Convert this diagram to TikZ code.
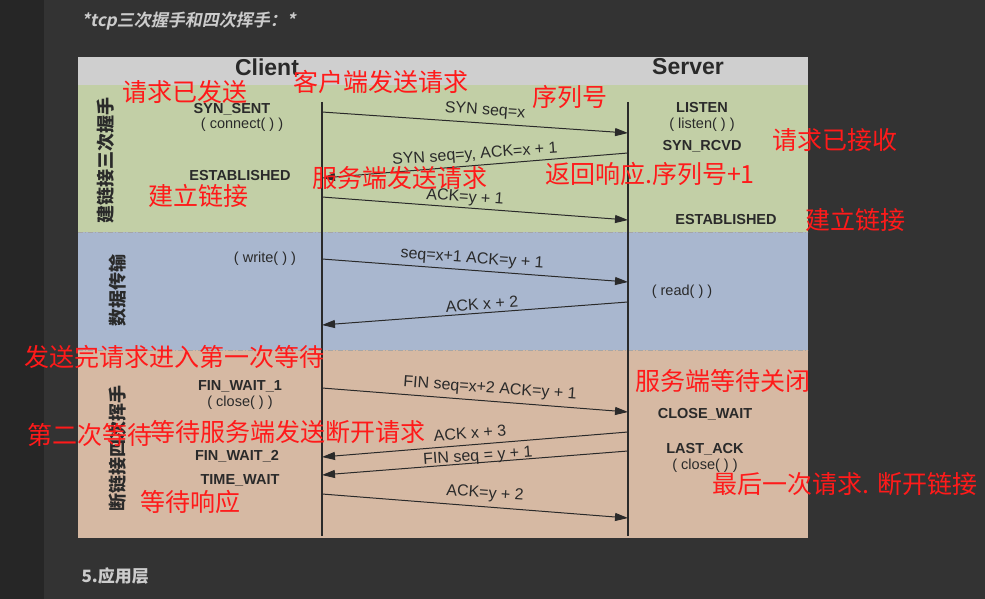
\documentclass[tikz,border=0pt]{standalone}
\usepackage{fontspec}
\setmainfont{Liberation Sans}
\newfontfamily\cjk{Noto Sans CJK SC}
\newfontfamily\cjkit[FakeSlant=0.2]{Noto Sans CJK SC Bold}
\usetikzlibrary{arrows.meta}
\definecolor{bgl}{HTML}{262626}
\definecolor{bgm}{HTML}{333333}
\definecolor{hdr}{HTML}{CFCFCF}
\definecolor{grn}{HTML}{C2CFA6}
\definecolor{blu}{HTML}{A9B7CF}
\definecolor{org}{HTML}{D6B9A3}
\definecolor{ink}{HTML}{2A2A2A}
\definecolor{ann}{HTML}{FF1A1A}
\tikzset{
 st/.style={font=\bfseries\fontsize{14.5}{15}\selectfont, text=ink, inner sep=0},
 lb/.style={font=\fontsize{14.5}{15}\selectfont, text=ink, inner sep=0},
 ml/.style={font=\fontsize{16}{17}\selectfont, text=ink, inner sep=0},
 an/.style={font=\cjk\fontsize{25}{26}\selectfont, text=ann, inner sep=0},
 sec/.style={font=\cjk\bfseries\fontsize{18}{19}\selectfont, text=ink, rotate=90, inner sep=0},
 msg/.style={draw=ink, line width=1pt, -{Triangle[length=13pt,width=8pt]}},
 dv/.style={draw=gray!70, line width=1pt, dash pattern=on 5pt off 2pt on 1pt off 2pt}
}
\begin{document}
\begin{tikzpicture}[x=1pt,y=-1pt]
\useasboundingbox (0,0) rectangle (985,599);
\fill[bgl] (0,0) rectangle (44,599);
\fill[bgm] (44,0) rectangle (985,599);
\node[anchor=west, text=gray!40!white, font=\cjkit\fontsize{17}{18}\selectfont] (title) at (78,21) {*tcp三次握手和四次挥手：*};
\node[anchor=west, text=gray!40!white, font=\cjk\bfseries\fontsize{17}{18}\selectfont] (five) at (78,576) {5.应用层};
% image
\fill[hdr] (78,57) rectangle (808,85);
\fill[grn] (78,85) rectangle (808,232);
\fill[blu] (78,232) rectangle (808,350);
\fill[org] (78,350) rectangle (808,538);
\draw[dv] (78,232) -- (808,232);
\draw[dv] (78,350) -- (808,350);
\node[font=\bfseries\fontsize{23}{24}\selectfont, text=ink, inner sep=0] (client) at (267,67) {Client};
\node[font=\bfseries\fontsize{23}{24}\selectfont, text=ink, inner sep=0] (server) at (688,67) {Server};
\coordinate (ct) at (322,102); \coordinate (cb) at (322,536);
\coordinate (stp) at (628,102); \coordinate (sb) at (628,536);
\draw[ink, line width=1.2pt] (ct) -- (cb);
\draw[ink, line width=1.2pt] (stp) -- (sb);
\node[sec] (s1) at (106,160) {建链接三次握手};
\node[sec] (s2) at (118,290) {数据传输};
\node[sec] (s3) at (118,448) {断链接四次挥手};
% client states
\node[st] (a1) at (232,109) {SYN\_SENT};
\node[lb] (a2) at (242,125) {( connect( ) )};
\node[st] (a3) at (240,176) {ESTABLISHED};
\node[lb] (a4) at (265,259) {( write( ) )};
\node[st] (a5) at (240,386) {FIN\_WAIT\_1};
\node[lb] (a6) at (240,403) {( close( ) )};
\node[st] (a7) at (237,456) {FIN\_WAIT\_2};
\node[st] (a8) at (240,480) {TIME\_WAIT};
% server states
\node[st] (b1) at (702,108) {LISTEN};
\node[lb] (b2) at (702,125) {( listen( ) )};
\node[st] (b3) at (702,146) {SYN\_RCVD};
\node[st] (b4) at (726,220) {ESTABLISHED};
\node[lb] (b5) at (682,292) {( read( ) )};
\node[st] (b6) at (705,414) {CLOSE\_WAIT};
\node[st] (b7) at (705,449) {LAST\_ACK};
\node[lb] (b8) at (705,466) {( close( ) )};
% messages
\coordinate (m1a) at (322,112); \coordinate (m1b) at (628,133);
\coordinate (m2a) at (628,153); \coordinate (m2b) at (322,178);
\coordinate (m3a) at (322,197); \coordinate (m3b) at (628,220);
\coordinate (m4a) at (322,259); \coordinate (m4b) at (628,282);
\coordinate (m5a) at (628,302); \coordinate (m5b) at (322,325);
\coordinate (m6a) at (322,388); \coordinate (m6b) at (628,412);
\coordinate (m7a) at (628,432); \coordinate (m7b) at (322,457);
\coordinate (m8a) at (628,451); \coordinate (m8b) at (322,475);
\coordinate (m9a) at (322,494); \coordinate (m9b) at (628,518);
\foreach \i in {1,...,9} \draw[msg] (m\i a) -- (m\i b);
\node[ml, rotate=-4] (l1) at (485,111) {SYN seq=x};
\node[ml, rotate=4] (l2) at (475,155) {SYN seq=y, ACK=x + 1};
\node[ml, rotate=-4] (l3) at (465,198) {ACK=y + 1};
\node[ml, rotate=-4] (l4) at (472,259) {seq=x+1 ACK=y + 1};
\node[ml, rotate=4] (l5) at (482,304) {ACK x + 2};
\node[ml, rotate=-4] (l6) at (490,389) {FIN seq=x+2 ACK=y + 1};
\node[ml, rotate=4] (l7) at (470,433) {ACK x + 3};
\node[ml, rotate=4] (l8) at (478,457) {FIN seq = y + 1};
\node[ml, rotate=-4] (l9) at (485,494) {ACK=y + 2};
% annotations
\node[an] (r1) at (185,92) {请求已发送};
\node[an] (r2) at (381,82) {客户端发送请求};
\node[an] (r3) at (570,97) {序列号};
\node[an] (r4) at (835,140) {请求已接收};
\node[an] (r5) at (400,178) {服务端发送请求};
\node[an] (r6) at (650,174) {返回响应.序列号+1};
\node[an] (r7) at (198,196) {建立链接};
\node[an] (r8) at (855,220) {建立链接};
\node[an] (r9) at (174,357) {发送完请求进入第一次等待};
\node[an] (r10) at (723,381) {服务端等待关闭};
\node[an] (r11) at (90,435) {第二次等待};
\node[an] (r12) at (288,432) {等待服务端发送断开请求};
\node[an] (r13) at (845,484) {最后一次请求. 断开链接};
\node[an] (r14) at (190,502) {等待响应};
\end{tikzpicture}
\end{document}
